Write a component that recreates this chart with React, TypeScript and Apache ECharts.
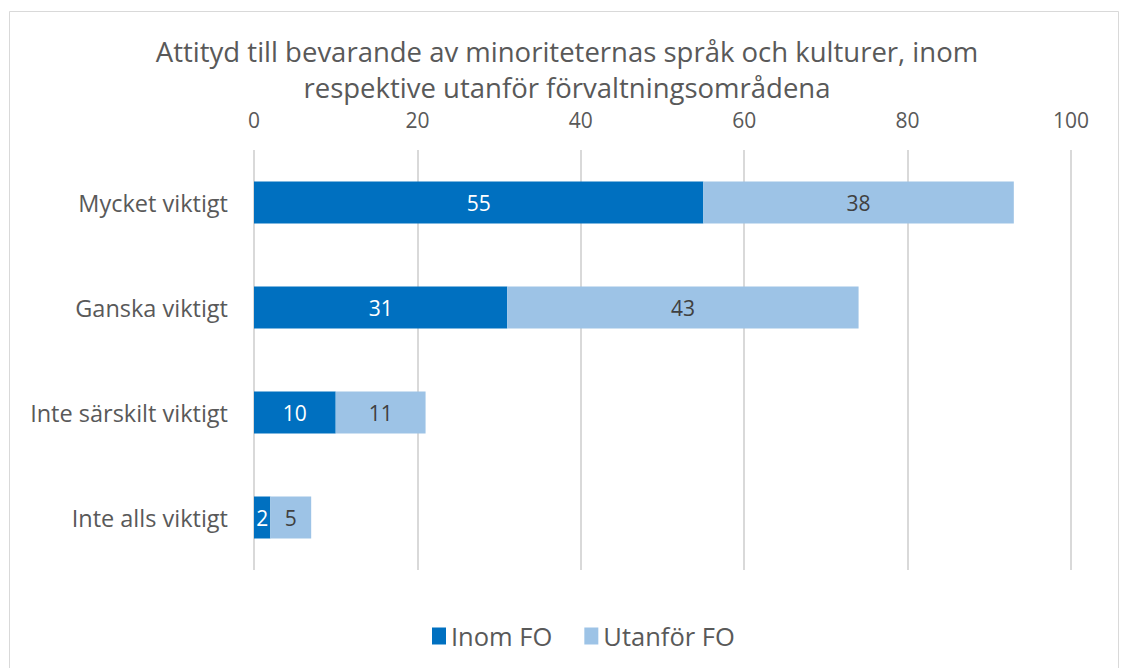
import React, { useEffect, useRef } from "react";
import * as echarts from "echarts";

const categories = ["Mycket viktigt", "Ganska viktigt", "Inte särskilt viktigt", "Inte alls viktigt"];
const inomFO = [55, 31, 10, 2];
const utanforFO = [38, 43, 11, 5];
const seriesNames = ["Inom FO", "Utanför FO"];
const titleText = "Attityd till bevarande av minoriteternas språk och kulturer, inom\nrespektive utanför förvaltningsområdena";

export default function App() {
  const ref = useRef<HTMLDivElement>(null);
  useEffect(() => {
    document.body.style.margin = "0";
    const chart = echarts.init(ref.current!, null, { renderer: "svg" });
    const font = "'Open Sans', sans-serif";
    chart.setOption({
      animation: false,
      backgroundColor: "#ffffff",
      textStyle: { fontFamily: font },
      graphic: [
        {
          type: "rect",
          shape: { x: 9.5, y: 11.5, width: 1109, height: 680 },
          style: { fill: "none", stroke: "#d9d9d9", lineWidth: 1 },
          silent: true,
        },
      ],
      title: {
        text: titleText,
        left: 567,
        textAlign: "center",
        top: 33,
        padding: 0,
        textStyle: { fontFamily: font, fontSize: 27.5, fontWeight: "normal", color: "#595959", lineHeight: 36 },
      },
      legend: {
        top: 618,
        left: 427,
        itemWidth: 14,
        itemHeight: 17,
        itemGap: 32,
        icon: "rect",
        textStyle: { fontFamily: font, fontSize: 25.5, color: "#595959", padding: [0, 0, 0, 0] },
        data: seriesNames,
      },
      grid: { left: 254, right: 54, top: 150, bottom: 98, containLabel: false },
      xAxis: {
        type: "value",
        position: "top",
        min: 0,
        max: 100,
        interval: 20,
        axisLine: { show: false },
        axisTick: { show: false },
        axisLabel: { fontFamily: font, fontSize: 21, color: "#595959", margin: 20 },
        splitLine: { lineStyle: { color: "#d9d9d9", width: 2 } },
      },
      yAxis: {
        type: "category",
        inverse: true,
        data: categories,
        axisLine: { show: false },
        axisTick: { show: false },
        axisLabel: { fontFamily: font, fontSize: 23.5, color: "#595959", margin: 26 },
      },
      series: [
        {
          name: seriesNames[0],
          type: "bar",
          stack: "total",
          data: inomFO,
          barWidth: "40%",
          itemStyle: { color: "#0070c0" },
          label: { show: true, position: "inside", color: "#ffffff", fontSize: 21, fontFamily: font },
        },
        {
          name: seriesNames[1],
          type: "bar",
          stack: "total",
          data: utanforFO,
          barWidth: "40%",
          itemStyle: { color: "#9dc3e6" },
          label: { show: true, position: "inside", color: "#404040", fontSize: 21, fontFamily: font },
        },
      ],
    });
    return () => chart.dispose();
  }, []);
  return <div ref={ref} style={{ width: 1125, height: 668 }} />;
}
